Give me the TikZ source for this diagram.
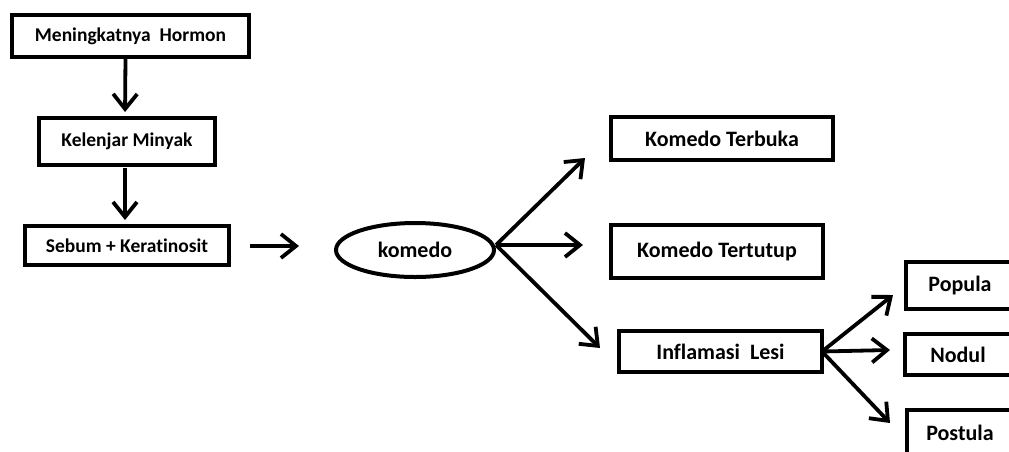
\documentclass[tikz,border=0pt]{standalone}
\usepackage{fontspec}
\setmainfont{Carlito}[RawFeature=-liga]
\usetikzlibrary{arrows.meta,shapes.geometric}
\begin{document}
\begin{tikzpicture}[x=1pt,y=-1pt,
  box/.style={draw=black,line width=4pt,rectangle,inner sep=0pt,outer sep=0pt,font=\bfseries\fontsize{19.5}{22}\selectfont},
  bigbox/.style={box,font=\bfseries\fontsize{22}{25}\selectfont},
  arr/.style={line width=3.8pt,-{Straight Barb[length=15pt,width=24pt,line width=3.8pt]}}
]
\useasboundingbox (0,0) rectangle (1009,451);
\clip (0,0) rectangle (1009,451);
\node[box,minimum width=237pt,minimum height=42pt] (hormon) at (130.5,36) {Meningkatnya\ \ Hormon};
\node[box,minimum width=176pt,minimum height=47pt] (minyak) at (127,141.5) {Kelenjar\ Minyak};
\node[box,minimum width=204pt,minimum height=39pt] (sebum) at (127,245.5) {Sebum + Keratinosit};
\node[draw=black,line width=4pt,ellipse,inner sep=0pt,minimum width=158pt,minimum height=54pt,font=\bfseries\fontsize{22}{25}\selectfont] (komedo) at (415,250) {komedo};
\node[bigbox,minimum width=222pt,minimum height=43pt] (terbuka) at (722,138.5) {Komedo Terbuka};
\node[bigbox,minimum width=212pt,minimum height=53pt] (tertutup) at (717,251.5) {Komedo Tertutup};
\node[bigbox,minimum width=203pt,minimum height=41pt] (inflamasi) at (720.5,351.5) {Inflamasi\ \ Lesi};
\node[bigbox,minimum width=108pt,minimum height=47pt] (popula) at (960,285.5) {Popula};
\node[bigbox,minimum width=106pt,minimum height=41pt] (nodul) at (958,354.5) {Nodul};
\node[bigbox,minimum width=106pt,minimum height=46pt] (postula) at (960,433) {Postula};
\coordinate (e1) at (585,158);
\coordinate (e2) at (583,245);
\coordinate (e3) at (600,348);
\coordinate (f1) at (893,295);
\coordinate (f2) at (890,350);
\coordinate (f3) at (890,423);
\draw[arr,shorten >=6pt] ([xshift=-5pt]hormon.south) -- ([xshift=-2pt]minyak.north);
\draw[arr,shorten <=3pt,shorten >=6pt] ([xshift=-2pt]minyak.south) -- ([xshift=-2pt]sebum.north);
\draw[arr,shorten <=21pt,shorten >=35pt] (sebum.east |- 0,246) -- (komedo.west |- 0,246);
\draw[arr] ([yshift=5pt]komedo.east) -- (e1);
\draw[arr] ([yshift=5pt]komedo.east) -- (e2);
\draw[arr] ([yshift=5pt]komedo.east) -- (e3);
\draw[arr] (inflamasi.east) -- (f1);
\draw[arr] (inflamasi.east) -- (f2);
\draw[arr] (inflamasi.east) -- (f3);
\end{tikzpicture}
\end{document}
